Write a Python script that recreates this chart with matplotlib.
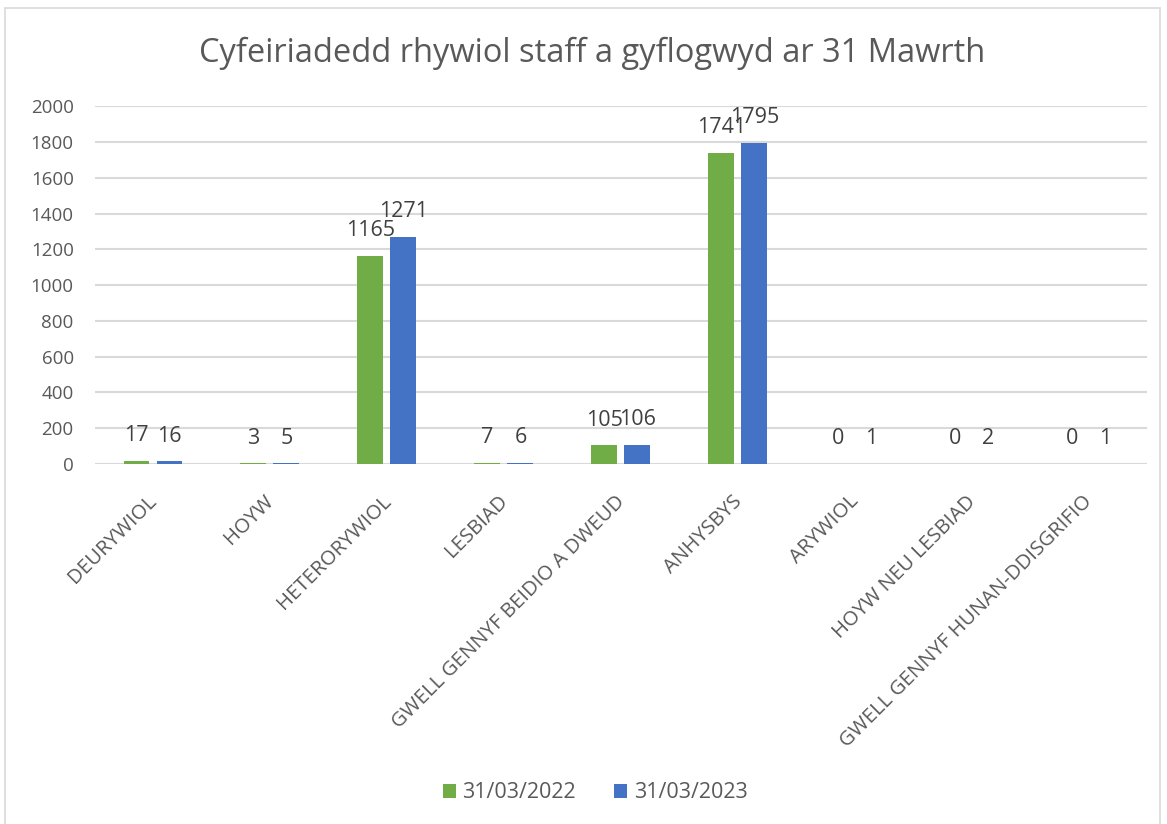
import numpy as np
import matplotlib
matplotlib.use("Agg")
import matplotlib.pyplot as plt
from matplotlib.patches import Rectangle
from matplotlib.transforms import ScaledTranslation

plt.rcParams['font.family'] = ['Open Sans', 'DejaVu Sans']

categories = ['DEURYWIOL', 'HOYW', 'HETERORYWIOL', 'LESBIAD',
              'GWELL GENNYF BEIDIO A DWEUD', 'ANHYSBYS', 'ARYWIOL',
              'HOYW NEU LESBIAD', 'GWELL GENNYF HUNAN-DDISGRIFIO']
vals_2022 = [17, 3, 1165, 7, 105, 1741, 0, 0, 0]
vals_2023 = [16, 5, 1271, 6, 106, 1795, 1, 2, 1]
series_names = ['31/03/2022', '31/03/2023']
title = 'Cyfeiriadedd rhywiol staff a gyflogwyd ar 31 Mawrth'

green = '#70AD47'
blue = '#4472C4'
grid_c = '#D9D9D9'
txt_c = '#595959'

fig = plt.figure(figsize=(11.67, 8.24), dpi=100)
ax = fig.add_axes([0.081, 0.437, 0.902, 0.434])

# chart border
fig.patches.append(Rectangle((5/1167, -0.01), 1155/1167, 1.0 - 8/824 + 0.01,
                             transform=fig.transFigure, fill=False,
                             edgecolor=grid_c, linewidth=1.2))

x = np.arange(len(categories))
w = 0.222
off = 0.141
b1 = ax.bar(x - off, vals_2022, w, color=green, label=series_names[0], zorder=3)
b2 = ax.bar(x + off, vals_2023, w, color=blue, label=series_names[1], zorder=3)

for bars, vals in ((b1, vals_2022), (b2, vals_2023)):
    for r, v in zip(bars, vals):
        ax.annotate(str(v), (r.get_x() + r.get_width() / 2, v),
                    xytext=(0, 18), textcoords='offset points',
                    ha='center', va='center', fontsize=15.5, color='#404040')

ax.set_xlim(-0.5, len(categories) - 0.5)
ax.set_ylim(0, 2000)
ax.set_yticks(np.arange(0, 2001, 200))
ax.yaxis.grid(True, color=grid_c, linewidth=1.5, zorder=0)
ax.set_axisbelow(True)
for s in ax.spines.values():
    s.set_visible(False)
ax.tick_params(axis='y', length=0, pad=15, labelsize=13.5, labelcolor=txt_c)
ax.tick_params(axis='x', length=0, pad=25, labelsize=14.7, labelcolor=txt_c)
ax.set_xticks(x)
ax.set_xticklabels(categories, rotation=45, ha='right', va='center',
                   rotation_mode='anchor')
shift = ScaledTranslation(1/100, 0, fig.dpi_scale_trans)
for lab in ax.get_xticklabels():
    lab.set_transform(lab.get_transform() + shift)

fig.text(0.507, 0.935, title, ha='center', va='center', fontsize=23.5, color=txt_c)

fig.legend(loc='center', bbox_to_anchor=(0.51, 1 - 793/824), ncol=2,
           frameon=False, fontsize=15.5, labelcolor=txt_c, handlelength=0.6,
           handleheight=0.6, handletextpad=0.3, columnspacing=1.8)

fig.savefig('out.png', dpi=100)
